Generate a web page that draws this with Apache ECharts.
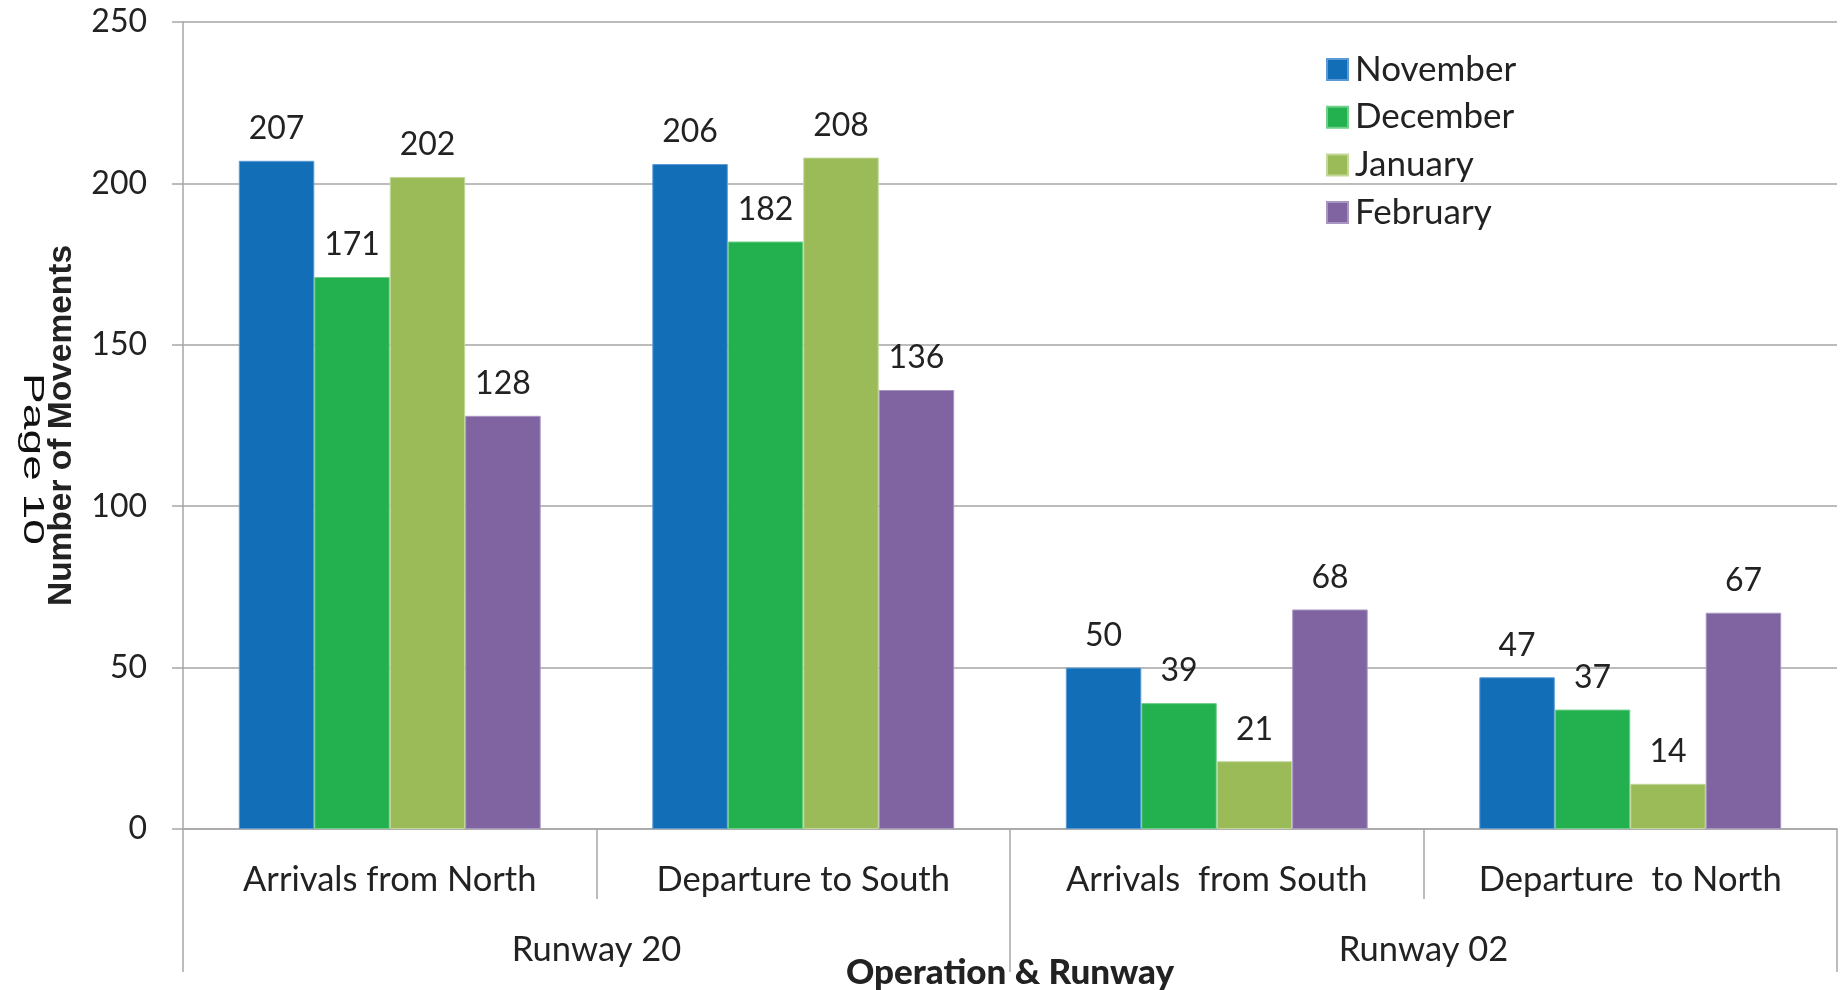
<!DOCTYPE html>
<html>
<head>
<meta charset="utf-8">
<script src="https://cdn.jsdelivr.net/npm/echarts@6/dist/echarts.min.js"></script>
<style>
html,body{margin:0;padding:0;background:#fff;}
#chart{width:1848px;height:990px;}
</style>
</head>
<body>
<div id="chart"></div>
<script>
var categories = ['Arrivals from North', 'Departure to South', 'Arrivals  from South', 'Departure  to North'];
var groups = ['Runway 20', 'Runway 02'];
var seriesNames = ['November', 'December', 'January', 'February'];
var november = [207, 206, 50, 47];
var december = [171, 182, 39, 37];
var january = [202, 208, 21, 14];
var february = [128, 136, 68, 67];
var yTicks = [0, 50, 100, 150, 200, 250];

var colors = ['#136EB8', '#23B04F', '#9BBB59', '#8064A2'];
var borders = ['#5A9BD5', '#6FD08A', '#C3D89A', '#A896C2'];
var values = [november, december, january, february];
var FONT = 'Lato';
var TXT = '#222222';
var AX = '#a6a6a6';

var chart = echarts.init(document.getElementById('chart'));
var series = seriesNames.map(function (n, i) {
  return {
    name: n,
    type: 'bar',
    xAxisIndex: 0,
    data: values[i],
    barGap: '0%',
    barCategoryGap: '27%',
    itemStyle: { color: colors[i], borderColor: borders[i], borderWidth: 1 },
    label: {
      show: true, position: 'top', distance: 16,
      fontFamily: FONT, fontSize: 32, color: TXT
    }
  };
});

chart.setOption({
  animation: false,
  grid: { left: 183, right: 11, top: 22, bottom: 161, containLabel: false, outerBoundsMode: 'none' },
  legend: {
    orient: 'vertical', left: 1321, top: 47,
    itemWidth: 21, itemHeight: 21, itemGap: 12.7,
    icon: 'rect',
    data: seriesNames,
    textStyle: { fontFamily: FONT, fontSize: 35, color: TXT, lineHeight: 22, padding: [0, 0, 0, 2] }
  },
  xAxis: [
    {
      type: 'category', data: categories, position: 'bottom',
      axisLine: { show: true, lineStyle: { color: AX, width: 1.5 } },
      axisTick: { show: true, interval: 0, length: 70, lineStyle: { color: AX, width: 1.5 } },
      axisLabel: { interval: 0, margin: 51, verticalAlign: 'middle', fontFamily: FONT, fontSize: 34.5, color: TXT }
    },
    {
      type: 'category', data: groups, position: 'bottom',
      axisLine: { show: false },
      axisTick: { show: true, interval: 0, length: 143, lineStyle: { color: AX, width: 1.5 } },
      axisLabel: { interval: 0, margin: 121, verticalAlign: 'middle', fontFamily: FONT, fontSize: 34.5, color: TXT },
      name: 'Operation & Runway', nameLocation: 'middle', nameGap: 144, nameMoveOverlap: false,
      nameTextStyle: { fontFamily: FONT, fontSize: 35, fontWeight: 900, color: TXT, verticalAlign: 'middle' }
    }
  ],
  yAxis: {
    type: 'value', min: yTicks[0], max: yTicks[yTicks.length - 1], interval: 50,
    axisLine: { show: true, lineStyle: { color: AX, width: 1.5 } },
    axisTick: { show: true, length: 11, lineStyle: { color: AX, width: 1.5 } },
    splitLine: { show: true, lineStyle: { color: AX, width: 1.5 } },
    axisLabel: { margin: 36, fontFamily: FONT, fontSize: 32, color: TXT },
    name: 'Number of Movements', nameLocation: 'middle', nameGap: 121, nameRotate: 90, nameMoveOverlap: false,
    nameTextStyle: { fontFamily: 'Liberation Sans', fontSize: 33.5, fontWeight: 'bold', color: TXT, verticalAlign: 'middle' }
  },
  graphic: [{
    type: 'text', x: 32, y: 459, rotation: -Math.PI / 2, scaleX: 1.59,
    style: { text: 'Page 10', fontFamily: 'Liberation Sans', fontSize: 29, fill: '#111', align: 'center', verticalAlign: 'middle' }
  }],
  series: series
});
</script>
</body>
</html>
